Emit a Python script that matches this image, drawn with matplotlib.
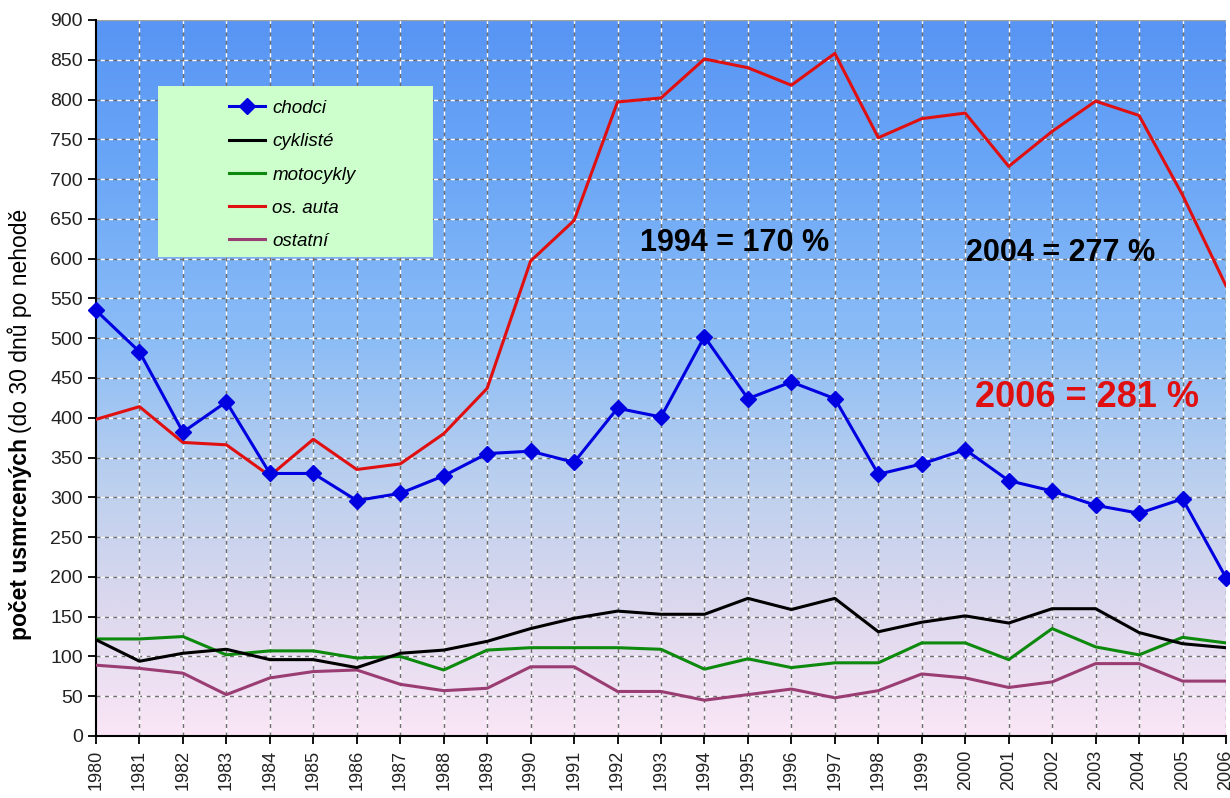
import matplotlib
matplotlib.use("Agg")
import matplotlib.pyplot as plt
import numpy as np
from matplotlib.colors import LinearSegmentedColormap
from matplotlib.patches import Rectangle

plt.rcParams['font.family'] = ['Liberation Sans', 'DejaVu Sans']

years = list(range(1980, 2007))

chodci = [535, 483, 382, 420, 330, 330, 296, 305, 327, 355, 358, 344, 412, 401,
          502, 424, 445, 424, 329, 342, 360, 321, 308, 290, 280, 298, 199]
cykliste = [121, 94, 104, 109, 96, 96, 86, 104, 108, 119, 135, 148, 157, 153,
            153, 173, 159, 173, 131, 143, 151, 142, 160, 160, 130, 116, 111]
motocykly = [122, 122, 125, 102, 107, 107, 98, 100, 83, 108, 111, 111, 111, 109,
             84, 97, 86, 92, 92, 117, 117, 96, 135, 112, 102, 124, 117]
os_auta = [398, 414, 369, 366, 327, 373, 335, 342, 380, 437, 597, 648, 797, 802,
           851, 840, 818, 858, 752, 776, 783, 716, 760, 798, 780, 680, 566]
ostatni = [89, 85, 79, 52, 73, 81, 83, 65, 57, 60, 87, 87, 56, 56,
           45, 52, 59, 48, 57, 78, 73, 61, 68, 91, 91, 69, 69]

notes = [("1994 = 170 %", 1994.7, 620, 'black', 22),
         ("2004 = 277 %", 2002.2, 607, 'black', 22),
         ("2006 = 281 %", 2002.8, 425, '#e01010', 26)]

fig = plt.figure(figsize=(12.3, 7.98), dpi=100)
ax = fig.add_axes([96/1230, 1 - 736/798, 1130/1230, 716/798])

ax.set_xlim(1980, 2006)
ax.set_ylim(0, 900)

# background gradient, blue at top fading to pink at the bottom
cmap = LinearSegmentedColormap.from_list('bg', [
    (0.0, '#fae6f6'), (0.18, '#dcd8ee'), (0.35, '#bcd0ee'),
    (0.55, '#8cbdf6'), (0.8, '#6aa6f7'), (1.0, '#5895f4')])
grad = np.linspace(0, 1, 256).reshape(-1, 1)
ax.imshow(grad, extent=[1980, 2006, 0, 900], origin='lower', aspect='auto',
          cmap=cmap, zorder=0)

# dashed grid: gray and white dashes alternating
for yv in range(50, 900, 50):
    ax.axhline(yv, color='#707070', lw=1, ls=(0, (3, 3)), zorder=1)
    ax.axhline(yv, color='white', lw=1, ls=(3, (3, 3)), zorder=1)
for xv in years[1:]:
    ax.axvline(xv, color='#707070', lw=1, ls=(0, (3, 3)), zorder=1)
    ax.axvline(xv, color='white', lw=1, ls=(3, (3, 3)), zorder=1)
ax.axhline(900, color='#a0a0a0', lw=1, zorder=1)

ax.plot(years, ostatni, color='#993d73', lw=2.2, label='ostatní', zorder=3)
ax.plot(years, motocykly, color='#0d8a0d', lw=2.2, label='motocykly', zorder=3)
ax.plot(years, cykliste, color='black', lw=2.2, label='cyklisté', zorder=3)
ax.plot(years, os_auta, color='#e01010', lw=2.2, label='os. auta', zorder=4)
ax.plot(years, chodci, color='#0000e0', lw=2.2, marker='D', ms=8,
        label='chodci', zorder=5, clip_on=False)

for txt, x, y, c, fs in notes:
    ax.text(x, y, txt, color=c, fontsize=fs, fontweight='bold', ha='center',
            va='center', fontstretch='condensed', zorder=6)

# legend box
ax.add_patch(Rectangle((0.055, 0.669), 0.243, 0.239, transform=ax.transAxes,
                       facecolor='#ccffcc', edgecolor='none', zorder=6))
h, l = ax.get_legend_handles_labels()
order = [4, 2, 1, 3, 0]
leg = ax.legend([h[i] for i in order], [l[i] for i in order],
                loc='upper left', bbox_to_anchor=(0.103, 0.912),
                frameon=False, labelspacing=0.86,
                handlelength=1.9, handletextpad=0.4,
                prop={'style': 'italic', 'size': 13.5})
leg.set_zorder(7)

ax.set_yticks(range(0, 901, 50))
ax.set_xticks(years)
ax.set_xticklabels([str(y) for y in years], rotation=90, fontsize=13)
ax.tick_params(axis='y', labelsize=14, length=6, width=1.3, direction='out',
               labelcolor='#222222')
ax.tick_params(axis='x', length=6, width=1.3, direction='out', pad=4,
               labelcolor='#222222')
ax.spines['top'].set_visible(False)
ax.spines['right'].set_visible(False)
ax.spines['left'].set_linewidth(1.5)
ax.spines['bottom'].set_linewidth(1.5)

# y label: bold part followed by a regular part
t1 = fig.text(20/1230, 1 - 640/798, 'počet usmrcených', rotation=90,
              rotation_mode='anchor', ha='left', va='center', fontsize=16.5,
              fontweight='bold')
fig.canvas.draw()
bb = t1.get_window_extent()
fig.text(20/1230, (bb.y1 + 5)/798, '(do 30 dnů po nehodě', rotation=90,
         rotation_mode='anchor', ha='left', va='center', fontsize=16.5)

fig.savefig('out.png', dpi=100)
